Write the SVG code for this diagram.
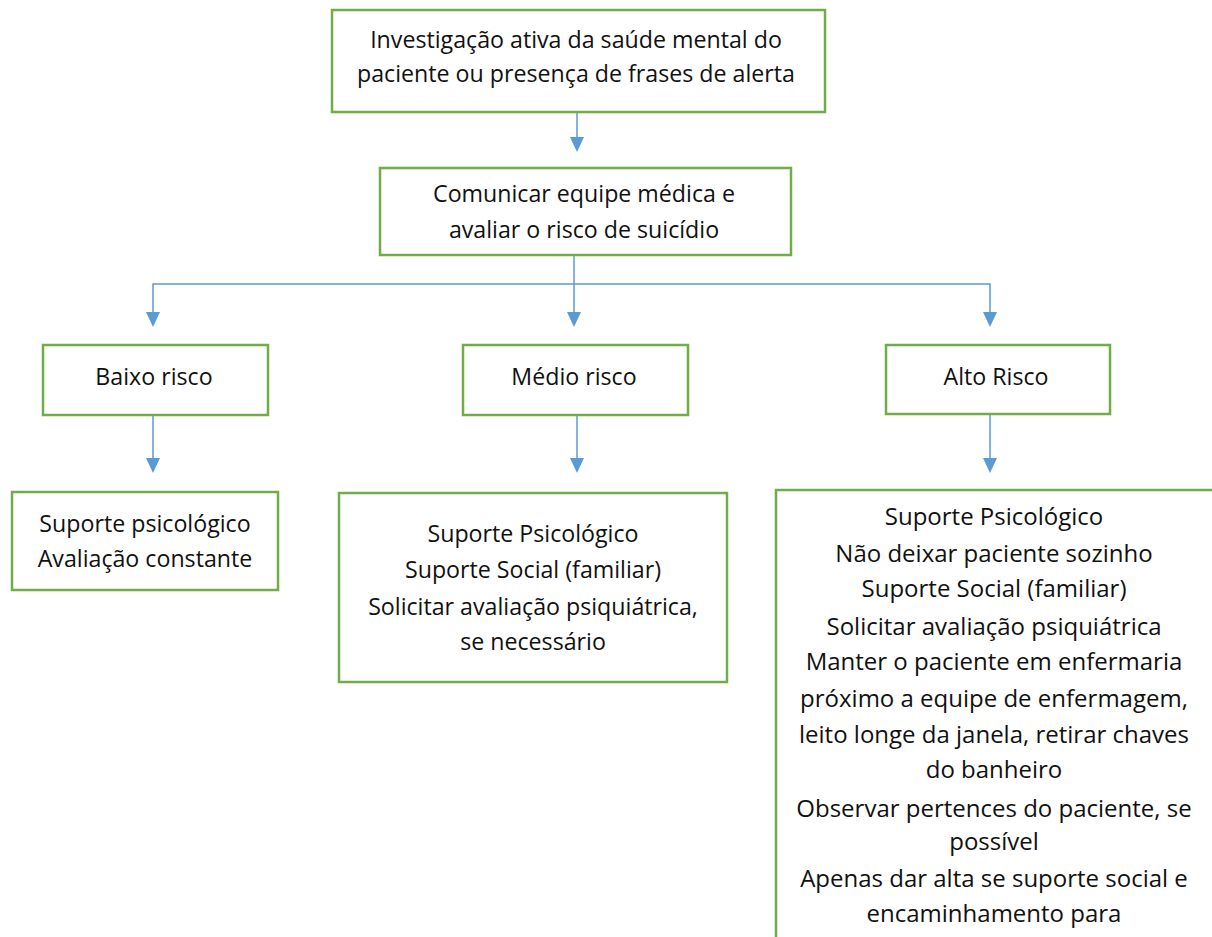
<svg xmlns="http://www.w3.org/2000/svg" width="1212" height="937" viewBox="0 0 1212 937">
<defs>
<style>
.box{fill:#fff;stroke:#70AD47;stroke-width:2.5}
.t{font-family:"Open Sans","Liberation Sans",sans-serif;font-size:23.2px;fill:#111;text-anchor:middle}
.tb{font-size:24px}
.c{fill:none;stroke:#5B9BD5;stroke-width:1.5}
.h{fill:#5B9BD5}
</style>
</defs>
<rect width="1212" height="937" fill="#fff"/>
<g id="connectors">
<path class="c" d="M577,112 V137"/><path class="h" d="M570,137 L584,137 L577,152 Z"/>
<path class="c" d="M574,255 V312"/><path class="h" d="M567,312 L581,312 L574,327 Z"/>
<path class="c" d="M153,312 V284 H990 V312"/>
<path class="h" d="M146,312 L160,312 L153,327 Z"/>
<path class="h" d="M983,312 L997,312 L990,327 Z"/>
<path class="c" d="M153,415 V458"/><path class="h" d="M146,458 L160,458 L153,473 Z"/>
<path class="c" d="M577,415 V458"/><path class="h" d="M570,458 L584,458 L577,473 Z"/>
<path class="c" d="M990,414 V458"/><path class="h" d="M983,458 L997,458 L990,473 Z"/>
</g>
<g id="n1">
<rect class="box" x="332" y="10" width="493" height="102"/>
<text class="t" x="576" y="48">Investigação ativa da saúde mental do</text>
<text class="t" x="576" y="82">paciente ou presença de frases de alerta</text>
</g>
<g id="n2">
<rect class="box" x="380" y="168" width="411" height="87"/>
<text class="t" x="584" y="202">Comunicar equipe médica e</text>
<text class="t" x="584" y="238">avaliar o risco de suicídio</text>
</g>
<g id="n3">
<rect class="box" x="43" y="345" width="225" height="70"/>
<text class="t" x="154" y="385">Baixo risco</text>
</g>
<g id="n4">
<rect class="box" x="463" y="345" width="225" height="70"/>
<text class="t" x="574" y="385">Médio risco</text>
</g>
<g id="n5">
<rect class="box" x="886" y="345" width="224" height="69"/>
<text class="t" x="996" y="385">Alto Risco</text>
</g>
<g id="n6">
<rect class="box" x="12" y="492" width="266" height="98"/>
<text class="t" x="145" y="532">Suporte psicológico</text>
<text class="t" x="145" y="567">Avaliação constante</text>
</g>
<g id="n7">
<rect class="box" x="339" y="493" width="388" height="189"/>
<text class="t" x="533" y="542">Suporte Psicológico</text>
<text class="t" x="533" y="578">Suporte Social (familiar)</text>
<text class="t" x="533" y="615">Solicitar avaliação psiquiátrica,</text>
<text class="t" x="533" y="650">se necessário</text>
</g>
<g id="n8">
<rect class="box" x="776" y="490" width="450" height="460"/>
<text class="t tb" x="994" y="525">Suporte Psicológico</text>
<text class="t tb" x="994" y="562">Não deixar paciente sozinho</text>
<text class="t tb" x="994" y="597">Suporte Social (familiar)</text>
<text class="t tb" x="994" y="635">Solicitar avaliação psiquiátrica</text>
<text class="t tb" x="994" y="670">Manter o paciente em enfermaria</text>
<text class="t tb" x="994" y="707">próximo a equipe de enfermagem,</text>
<text class="t tb" x="994" y="743">leito longe da janela, retirar chaves</text>
<text class="t tb" x="994" y="778">do banheiro</text>
<text class="t tb" x="994" y="817">Observar pertences do paciente, se</text>
<text class="t tb" x="994" y="850">possível</text>
<text class="t tb" x="994" y="887">Apenas dar alta se suporte social e</text>
<text class="t tb" x="994" y="922">encaminhamento para</text>
</g>
</svg>
